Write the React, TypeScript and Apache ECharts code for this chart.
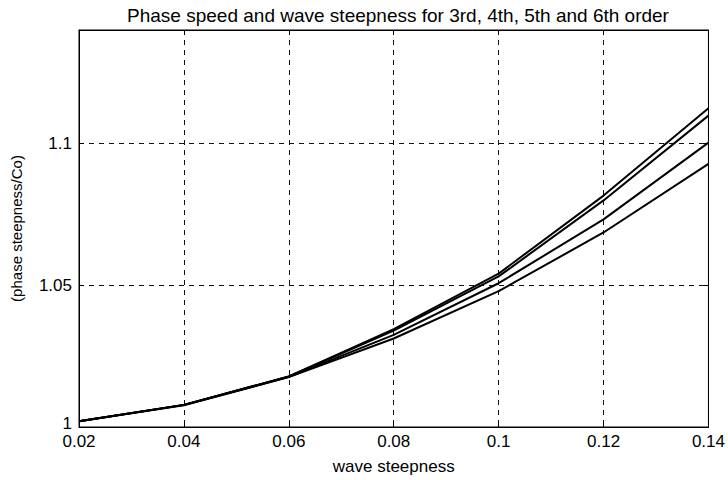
import React, { useEffect, useRef } from "react";
import * as echarts from "echarts";

const steepness = [0.02, 0.04, 0.06, 0.08, 0.1, 0.12, 0.14];
const order6 = [1.002, 1.0078, 1.0178, 1.0345, 1.0541, 1.0816, 1.1124];
const order5 = [1.002, 1.0078, 1.0178, 1.034, 1.0531, 1.0799, 1.1098];
const order4 = [1.002, 1.0078, 1.0177, 1.0325, 1.0507, 1.0732, 1.1003];
const order3 = [1.002, 1.0077, 1.0176, 1.0312, 1.0479, 1.0686, 1.0928];
const seriesNames = ["3rd order", "4th order", "5th order", "6th order"];
const seriesValues = [order3, order4, order5, order6];

const FONT = "'Liberation Sans', Arial, Helvetica, sans-serif";

export default function App() {
  const ref = useRef<HTMLDivElement>(null);
  useEffect(() => {
    if (!ref.current) return;
    const chart = echarts.init(ref.current, null, { renderer: "svg" });
    const dashed = { show: true, lineStyle: { color: "#111", type: [5, 5] as any, width: 1 } };
    const fmtX = (v: number) => String(parseFloat(v.toFixed(2)));
    const fmtY = (v: number) => {
      const s = String(parseFloat(v.toFixed(2)));
      return v === 1 ? "{low|" + s + "}" : s;
    };
    chart.setOption({
      animation: false,
      backgroundColor: "#fff",
      title: {
        text: "Phase speed and wave steepness for 3rd, 4th, 5th and 6th order",
        left: 393,
        textAlign: "center",
        top: 1,
        textStyle: { fontFamily: FONT, fontSize: 19, fontWeight: "normal", color: "#000" },
      },
      grid: {
        left: 79,
        right: 18,
        top: 30,
        bottom: 45,
        show: true,
        borderColor: "#000",
        borderWidth: 1,
      },
      xAxis: [
        {
          type: "value",
          min: 0.02,
          max: 0.14,
          interval: 0.02,
          position: "bottom",
          name: "wave steepness",
          nameLocation: "middle",
          nameGap: 31,
          nameTextStyle: { fontFamily: FONT, fontSize: 17, color: "#000" },
          axisLine: { show: true, lineStyle: { color: "#000" } },
          axisTick: { show: true, inside: true, length: 5, lineStyle: { color: "#000" } },
          axisLabel: { fontFamily: FONT, fontSize: 17, color: "#000", margin: 6, formatter: fmtX },
          splitLine: dashed,
        },
        {
          type: "value",
          min: 0.02,
          max: 0.14,
          interval: 0.02,
          position: "top",
          axisLine: { show: true, lineStyle: { color: "#000" } },
          axisTick: { show: true, inside: true, length: 5, lineStyle: { color: "#000" } },
          axisLabel: { show: false },
          splitLine: { show: false },
        },
      ],
      yAxis: [
        {
          type: "value",
          min: 1,
          max: 1.14,
          interval: 0.05,
          position: "left",
          name: "(phase steepness/Co)",
          nameLocation: "middle",
          nameGap: 55,
          nameTextStyle: { fontFamily: FONT, fontSize: 15, color: "#000" },
          axisLine: { show: true, lineStyle: { color: "#000" } },
          axisTick: { show: true, inside: true, length: 5, lineStyle: { color: "#000" } },
          axisLabel: {
            fontFamily: FONT,
            fontSize: 17,
            color: "#000",
            margin: 7,
            showMaxLabel: false,
            formatter: fmtY,
            rich: {
              low: { fontFamily: FONT, fontSize: 17, color: "#000", padding: [0, 0, 8, 0] },
            },
          },
          splitLine: dashed,
        },
        {
          type: "value",
          min: 1,
          max: 1.14,
          interval: 0.05,
          position: "right",
          axisLine: { show: true, lineStyle: { color: "#000" } },
          axisTick: { show: true, inside: true, length: 5, lineStyle: { color: "#000" } },
          axisLabel: { show: false },
          splitLine: { show: false },
        },
      ],
      series: seriesValues.map((vals, i) => ({
        name: seriesNames[i],
        type: "line",
        xAxisIndex: 0,
        yAxisIndex: 0,
        data: steepness.map((x, j) => [x, vals[j]]),
        showSymbol: false,
        symbol: "none",
        lineStyle: { color: "#000", width: 2 },
      })),
    });
    return () => chart.dispose();
  }, []);
  return <div ref={ref} style={{ width: 728, height: 480, position: "absolute", left: 0, top: 0 }} />;
}
